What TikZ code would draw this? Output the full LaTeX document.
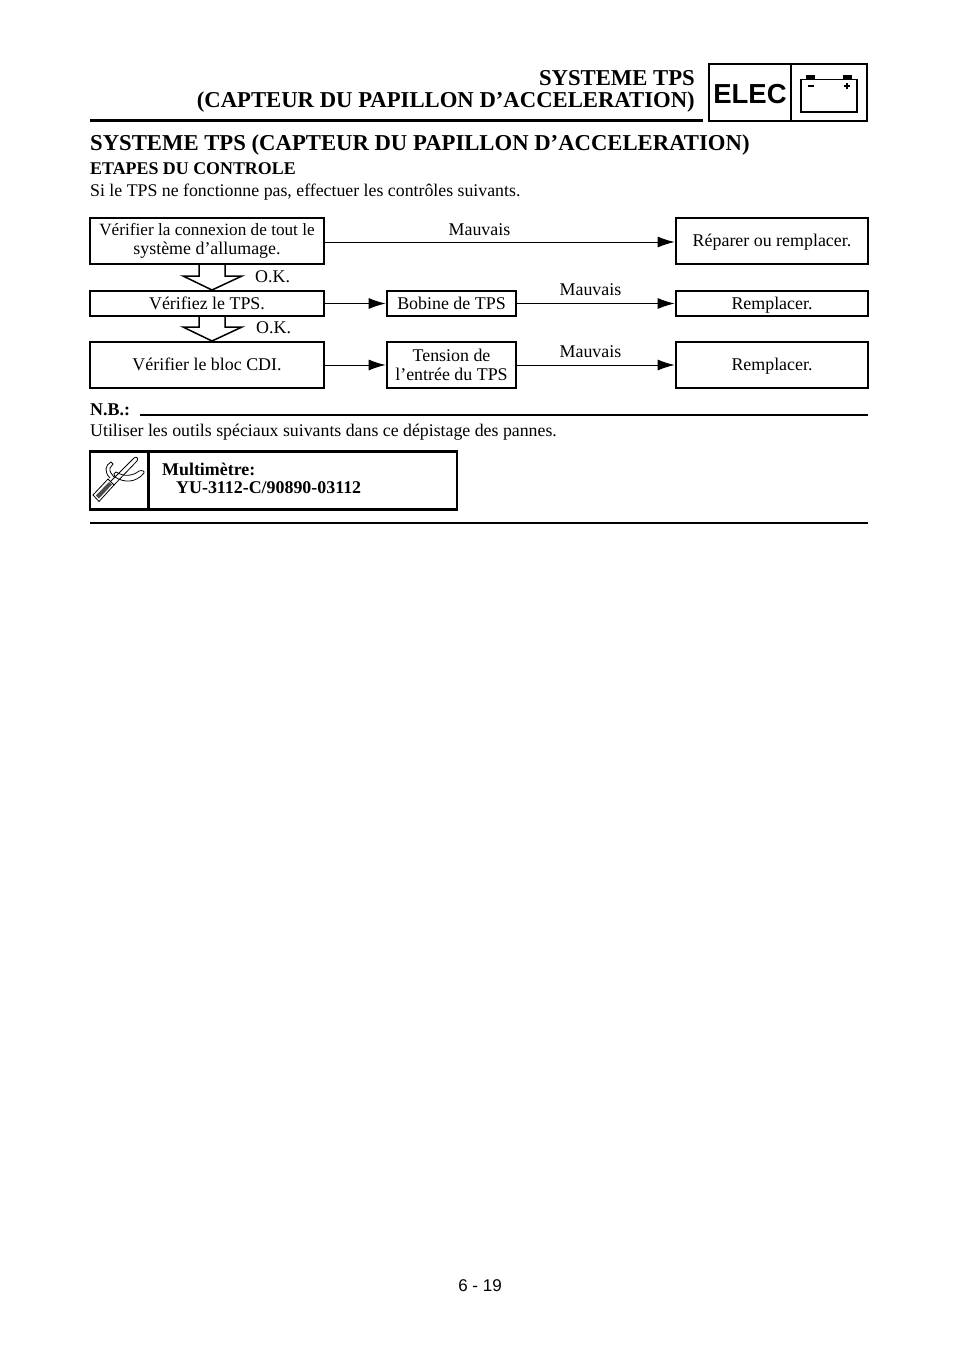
\documentclass[tikz,border=0pt]{standalone}
\usepackage{fontspec}
\setmainfont{Liberation Serif}
\newfontfamily\arialf{Liberation Sans}
\usetikzlibrary{arrows.meta}
\newcommand{\boxstrut}{\rule[-4pt]{0pt}{19pt}}
\tikzset{
 fbox/.style={draw=black,line width=2.7pt,minimum width=#1,inner sep=0pt,align=center,font=\fontsize{17.9}{19.5}\selectfont},
 conn/.style={line width=1pt,-{Latex[length=17pt,width=11pt]}},
 lab/.style={inner sep=0pt,font=\fontsize{17.9}{19.5}\selectfont,anchor=base},
 body/.style={inner sep=0pt,font=\fontsize{17.8}{19.5}\selectfont,anchor=base west},
 bold/.style={inner sep=0pt,font=\fontsize{17.9}{19}\selectfont\bfseries,anchor=base west},
 ttl/.style={inner sep=0pt,font=\fontsize{22.7}{26}\selectfont\bfseries},
 rul/.style={line width=2.6pt},
 okarrow/.style={line width=1.5pt,line join=miter}
}
\begin{document}
\begin{tikzpicture}[x=1pt,y=-1pt]
\useasboundingbox (0,0) rectangle (960,1358);
% header
\node[ttl,anchor=base east] (t1) at (695,85) {SYSTEME TPS};
\node[ttl,anchor=base east] (t2) at (695,107) {(CAPTEUR DU PAPILLON D’ACCELERATION)};
\draw[rul] (90,120.5) -- (703,120.5);
\draw[line width=2.8pt] (709,64) rectangle (867,121);
\draw[line width=2.4pt] (791,64) -- (791,121);
\node[inner sep=0pt,font=\arialf\fontsize{27.5}{30}\selectfont\bfseries] (elec) at (750,94) {ELEC};
\draw[line width=1.2pt] (801,79.5) rectangle (857,112);
\fill (806,75) rectangle (815,80);
\fill (843,75) rectangle (852,80);
\draw[line width=1.2pt] (808,86) -- (814,86);
\draw[line width=1.2pt] (844,86) -- (850,86) (847,83) -- (847,89);
% headings
\node[ttl,anchor=base west] (h) at (90,150) {SYSTEME TPS (CAPTEUR DU PAPILLON D’ACCELERATION)};
\node[bold] (h2) at (90,174) {ETAPES DU CONTROLE};
\node[body] (h3) at (90,196) {Si le TPS ne fonctionne pas, effectuer les contrôles suivants.};
% boxes
\node[fbox=234pt,minimum height=46pt] (a1) at (207,241) {{\fontsize{17.2}{19.5}\selectfont Vérifier la connexion de tout le}\\système d’allumage.};
\node[fbox=234pt,minimum height=25pt] (a2) at (207,303.5) {\boxstrut Vérifiez le TPS.};
\node[fbox=234pt,minimum height=46pt] (a3) at (207,365) {\boxstrut Vérifier le bloc CDI.};
\node[fbox=129pt,minimum height=25pt] (b2) at (451.5,303.5) {\boxstrut Bobine de TPS};
\node[fbox=129pt,minimum height=46pt] (b3) at (451.5,365) {Tension de\\l’entrée du TPS};
\node[fbox=192pt,minimum height=46pt] (c1) at (772,241) {\boxstrut Réparer ou remplacer.};
\node[fbox=192pt,minimum height=25pt] (c2) at (772,303.5) {\boxstrut Remplacer.};
\node[fbox=192pt,minimum height=46pt] (c3) at (772,365) {\boxstrut Remplacer.};
% connectors
\draw[conn] ([yshift=-1pt]a1.east) -- ([yshift=-1pt]c1.west);
\draw[conn] (a2) -- (b2);
\draw[conn] (b2) -- (c2);
\draw[conn] (a3) -- (b3);
\draw[conn] (b3) -- (c3);
% labels
\node[lab] (m1) at (479.5,235) {Mauvais};
\node[lab] (m2) at (590.5,295) {Mauvais};
\node[lab] (m3) at (590.5,357) {Mauvais};
\node[lab,anchor=base west] (k1) at (255,282) {O.K.};
\node[lab,anchor=base west] (k2) at (256,333) {O.K.};
% open arrows
\draw[okarrow] (199,264) -- (199,276) -- (183,276) -- (212,290) -- (242,276) -- (225,276) -- (225,264);
\draw[okarrow] (199,316) -- (199,327) -- (183,327) -- (212,341) -- (242,327) -- (225,327) -- (225,316);
% note
\node[bold] (nb) at (90,415) {N.B.:};
\draw[rul] (140,415) -- (868,415);
\node[body] (ut) at (90,436) {Utiliser les outils spéciaux suivants dans ce dépistage des pannes.};
\draw[rul] (90,451.5) rectangle (457,509.5);
\draw[rul] (148.5,451.5) -- (148.5,509.5);
\node[bold] (mu) at (162,475) {Multimètre:};
\node[bold] (yu) at (176,493) {YU-3112-C/90890-03112};
\draw[rul] (90,523) -- (868,523);
% tool icon
\begin{scope}[line width=.8pt]
\draw (93,495) -- (99,501.5) -- (114,485) -- (108,479) -- cycle;
\fill[black!70] (96,495.5) -- (99,498.5) -- (112,484.5) -- (109,482) -- cycle;
\draw (111,481) -- (134,458) .. controls (136,456) and (139,458) .. (137,461) -- (114,485);
\draw (110,478) .. controls (104,472) and (105,465) .. (111,462) -- (113,464) -- (110,468) .. controls (109,472) and (112,474) .. (114,477);
\draw (116,472) .. controls (124,477) and (133,476) .. (139,471) .. controls (142,470) and (145,471) .. (144,473) .. controls (136,483) and (124,483) .. (115,477) .. controls (113,475) and (114,472) .. (116,472);
\end{scope}
% page number
\node[inner sep=0pt,font=\arialf\fontsize{17}{20}\selectfont] (pg) at (480,1286) {6 - 19};
\end{tikzpicture}
\end{document}
